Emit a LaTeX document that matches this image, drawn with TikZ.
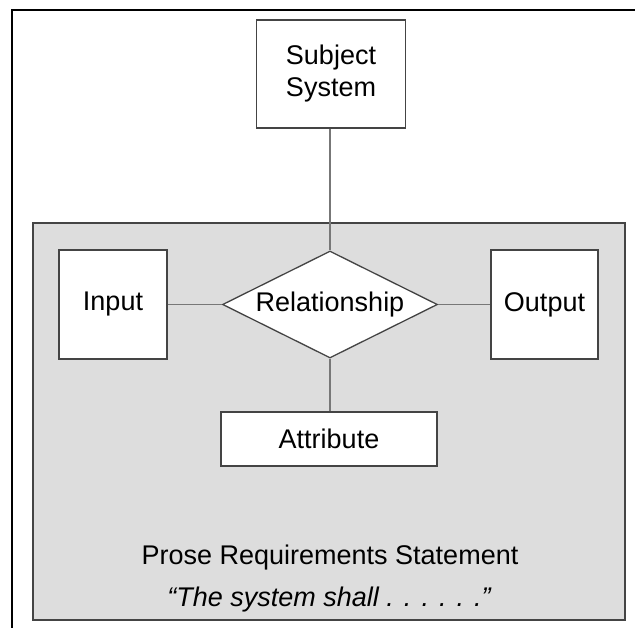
\documentclass[tikz,border=0pt]{standalone}
\usepackage{fontspec}
\setmainfont{Liberation Sans}
\usepackage{tikz}
\usetikzlibrary{shapes.geometric}
\definecolor{panelgray}{HTML}{DDDDDD}
\definecolor{edgegray}{HTML}{444444}
\definecolor{linkgray}{HTML}{777777}
\tikzset{
  block/.style={draw=edgegray, line width=1.3pt, fill=white, inner sep=0pt, align=center},
  link/.style={draw=linkgray, line width=1.8pt}
}

\begin{document}
\begin{tikzpicture}[x=1pt, y=-1pt, font=\fontsize{27}{32}\selectfont]
  \useasboundingbox (0,0) rectangle (635,628);
  % Outer frame
  \draw[black, line width=2.5pt] (12,628) -- (12,10) -- (635,10);
  % Grey panel
  \draw[panelgray, fill=panelgray] (33,223) rectangle (625,620);
  \draw[edgegray, line width=1.3pt] (33,223) rectangle (625,620);
  % Nodes
  \node[block, minimum width=149pt, minimum height=108pt] (subject) at (331,74) {Subject\\System};
  \node[block, shape=diamond, minimum width=215pt, minimum height=107pt, aspect=2] (rel) at (330,304.5) {Relationship};
  \node[block, minimum width=108pt, minimum height=109pt] (input) at (113,304.5) {Input};
  \node[block, minimum width=107pt, minimum height=109pt] (output) at (544.5,304.5) {Output};
  \node[block, minimum width=216pt, minimum height=54pt] (attr) at (329,439) {Attribute};
  % Connectors
  \draw[link] (subject.south -| rel.north) -- (rel.north);
  \draw[link] (input.east) -- (rel.west);
  \draw[link] (rel.east) -- (output.west);
  \draw[link] (rel.south) -- (attr.north -| rel.south);
  % Panel text
  \node (prose) at (330,558) {Prose Requirements Statement};
  \node[font=\fontsize{27}{32}\selectfont\itshape] (quote) at (329,600) {“The system shall . . . . . .”};
\end{tikzpicture}
\end{document}
